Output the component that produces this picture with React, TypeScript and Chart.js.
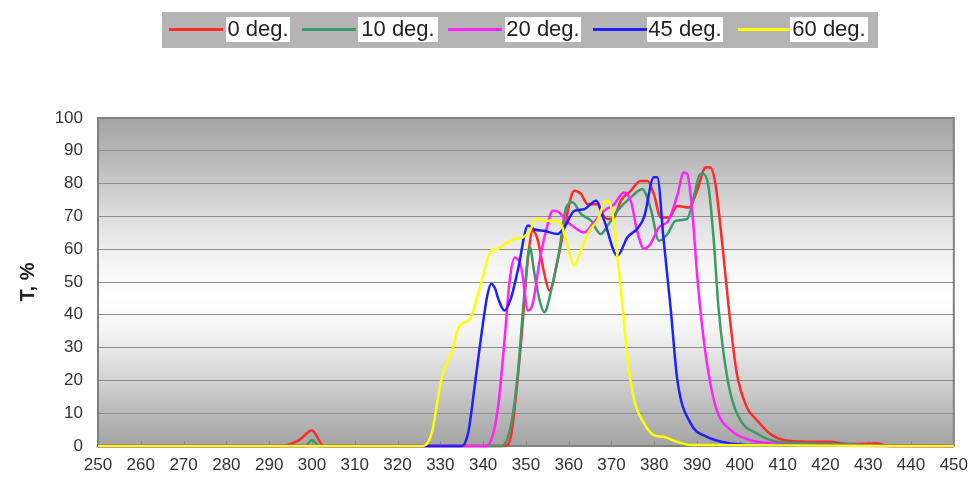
import React, { useEffect, useRef } from "react";
import { Chart, registerables } from "chart.js";

Chart.register(...registerables);

const seriesNames = ["0 deg.", "10 deg.", "20 deg.", "45 deg.", "60 deg."];
const seriesColors = ["#ff2a2a", "#3d9a68", "#ff22ff", "#2020ff", "#ffff00"];

const deg0X = [250, 292.5, 297, 300, 302.8, 345, 346.5, 347.4, 348.9, 350.5, 351.6, 352.8, 354.3, 355.5, 357.4, 359, 361.3, 362.9, 364.4, 366.7, 367.9, 369.1, 370.6, 372.2, 374.5, 376.8, 378.4, 379.9, 381.5, 383.4, 385.4, 388.1, 390, 392, 393.1, 394.3, 395.4, 396.6, 397.8, 399.3, 401.6, 404, 407, 410.2, 415.6, 421, 425.7, 431.9, 435, 450];
const deg0T = [0, 0, 1.8, 4.7, 0, 0, 3, 11.9, 32.2, 57.5, 65.6, 62.6, 52.5, 47.4, 56.5, 66.7, 77.8, 76.8, 73.7, 73.7, 70.7, 69.2, 69.7, 74.8, 77.8, 80.8, 80.8, 76.8, 69.7, 69.7, 73.2, 72.7, 77.8, 84.9, 84.9, 79.8, 67.7, 52.5, 37.3, 22, 11.9, 7.9, 3.8, 1.8, 1.3, 1.3, 0.6, 0.8, 0, 0];

const deg10X = [250, 298.5, 300, 301.8, 344.3, 346.6, 348.1, 349.7, 350.9, 352, 353.2, 354.3, 355.9, 357.8, 359.4, 360.9, 362.9, 365.2, 367.5, 369.1, 371.4, 374.5, 377.2, 379.1, 381.1, 383, 385, 387.7, 389.2, 390.8, 391.5, 392.7, 393.9, 395, 396.2, 397.8, 400.1, 404, 408.6, 415.6, 423.3, 428.8, 450];
const deg10T = [0, 0, 1.8, 0, 0, 6.9, 22, 47.4, 60.6, 52.5, 44.4, 40.8, 47.4, 59.6, 72.7, 74.3, 70.7, 68.7, 64.6, 67.2, 71.7, 75.8, 78.3, 72.7, 62.6, 64.5, 68.7, 69.2, 75.8, 82.9, 82.9, 78.8, 62.6, 42.3, 28.2, 16, 7.9, 3.8, 1.3, 0.8, 0.6, 0.3, 0];

const deg20X = [250, 340.4, 341.9, 343.5, 345, 346.2, 347.4, 348.9, 350.5, 351.6, 353.2, 354.7, 356.3, 357.8, 359.4, 361.3, 363.6, 365.6, 368.3, 370.6, 372.9, 374.5, 376, 377.6, 379.1, 381.1, 383.2, 385.4, 386.9, 387.7, 388.8, 390, 391.2, 392.7, 394.6, 397.8, 402.4, 407.8, 413.3, 450];
const deg20T = [0, 0, 1.8, 12, 32.2, 50.4, 57.5, 54.5, 41.3, 43.4, 56.5, 65.6, 71.7, 71.2, 68.7, 66.7, 65.1, 67.7, 71.7, 73.7, 77.3, 74.8, 65.6, 60.1, 61.6, 66.7, 68.5, 76.5, 83.4, 82.9, 72.7, 52.5, 36.3, 22, 10.9, 4.9, 1.8, 0.8, 0.3, 0];

const deg45X = [250, 335, 336.5, 338, 339.5, 341, 341.9, 342.8, 343.5, 345, 346.5, 348.1, 350.5, 352, 354.3, 357.4, 359, 361.3, 363.6, 366.4, 368.3, 371.4, 373.7, 376, 377.6, 379.9, 380.7, 382.2, 383.8, 385.4, 388.5, 392.3, 397.8, 404, 450];
const deg45T = [0, 0, 4, 18, 33, 46, 49.5, 48, 45, 41.3, 45, 53.5, 67.2, 66, 65.6, 64.6, 66.7, 71.7, 72.2, 74.8, 68.7, 58, 63.6, 66.2, 69.7, 81.9, 81.9, 62.6, 42.3, 20, 6.9, 2.8, 0.8, 0.3, 0];

const deg60X = [250, 326, 328, 330.2, 333, 334.2, 337, 339.5, 341.9, 343.5, 345, 347.4, 349.3, 350.9, 352.4, 354.3, 356.7, 358.2, 359.8, 361.3, 362.9, 364.8, 366.7, 368.7, 369.5, 370.6, 371.4, 372.6, 373.7, 375.3, 377.6, 379.9, 382.2, 385.3, 388.5, 450];
const deg60T = [0, 0, 4, 20, 30, 36, 39, 49.5, 59.6, 60.1, 61.6, 63.1, 63.6, 65.6, 69.2, 68.7, 68.7, 67.7, 60.6, 55, 59.6, 65.6, 68.7, 74.8, 74.3, 67.7, 57.5, 42.3, 27.1, 14, 6.9, 3.3, 2.8, 1.3, 0.3, 0];

const seriesX = [deg0X, deg10X, deg20X, deg45X, deg60X];
const seriesT = [deg0T, deg10T, deg20T, deg45T, deg60T];

const xMin = 250;
const xMax = 450;
const xStep = 10;
const yMin = 0;
const yMax = 100;
const yStep = 10;
const yTitle = "T, %";

const FONT = "'Liberation Sans', Arial, Helvetica, sans-serif";

const bgPlugin = {
  id: "bgPlugin",
  beforeDraw(chart: any) {
    const { ctx, chartArea: a } = chart;
    ctx.save();
    ctx.fillStyle = "#ffffff";
    ctx.fillRect(0, 0, chart.width, chart.height);
    const g = ctx.createLinearGradient(0, a.top, 0, a.bottom);
    g.addColorStop(0, "#a6a6a6");
    g.addColorStop(0.12, "#b8b8b8");
    g.addColorStop(0.3, "#dedede");
    g.addColorStop(0.45, "#f6f6f6");
    g.addColorStop(0.55, "#ffffff");
    g.addColorStop(0.65, "#f4f4f4");
    g.addColorStop(0.8, "#d2d2d2");
    g.addColorStop(0.92, "#b4b4b4");
    g.addColorStop(1, "#a4a4a4");
    ctx.fillStyle = g;
    ctx.fillRect(a.left, a.top, a.right - a.left, a.bottom - a.top);
    ctx.restore();
  },
  beforeDatasetsDraw(chart: any) {
    const { ctx, chartArea: a, scales } = chart;
    ctx.save();
    ctx.strokeStyle = "#8a8a8a";
    ctx.lineWidth = 1;
    for (let v = xMin + xStep; v < xMax; v += xStep) {
      const px = Math.round(scales.x.getPixelForValue(v)) + 0.5;
      ctx.beginPath();
      ctx.moveTo(px, a.bottom);
      ctx.lineTo(px, a.bottom - 5);
      ctx.stroke();
    }
    ctx.strokeStyle = "#808080";
    ctx.lineWidth = 2;
    ctx.strokeRect(a.left, a.top, a.right - a.left, a.bottom - a.top);
    ctx.restore();
  },
  afterDraw(chart: any) {
    const { ctx } = chart;
    ctx.save();
    ctx.fillStyle = "#b4b4b4";
    ctx.fillRect(162, 12, 716, 36);
    const lineStarts = [169, 302, 448, 593, 738];
    const boxes = [[226, 290], [358, 438], [505, 581], [647, 723], [790, 868]];
    ctx.font = `22px ${FONT}`;
    ctx.textBaseline = "middle";
    for (let i = 0; i < seriesNames.length; i++) {
      ctx.strokeStyle = seriesColors[i];
      ctx.lineWidth = 3;
      ctx.beginPath();
      ctx.moveTo(lineStarts[i], 29.5);
      ctx.lineTo(lineStarts[i] + 54, 29.5);
      ctx.stroke();
      ctx.fillStyle = "#ffffff";
      ctx.fillRect(boxes[i][0], 17, boxes[i][1] - boxes[i][0], 25);
      ctx.fillStyle = "#222222";
      ctx.textAlign = "center";
      ctx.fillText(seriesNames[i], (boxes[i][0] + boxes[i][1]) / 2, 30);
    }
    ctx.restore();
  },
};

export default function App() {
  const ref = useRef<HTMLCanvasElement | null>(null);
  useEffect(() => {
    if (!ref.current) return;
    const datasets = seriesNames.map((name, i) => ({
      label: name,
      data: seriesX[i].map((x, j) => ({ x, y: seriesT[i][j] })),
      borderColor: seriesColors[i],
      backgroundColor: seriesColors[i],
      borderWidth: 2.5,
      pointRadius: 0,
      cubicInterpolationMode: "monotone" as const,
      fill: false,
      clip: 3,
      order: seriesNames.length - i,
    }));
    const chart = new Chart(ref.current, {
      type: "line",
      data: { datasets },
      options: {
        animation: false,
        responsive: false,
        layout: { padding: { top: 118, right: 16, left: 0, bottom: 0 } },
        plugins: { legend: { display: false }, tooltip: { enabled: false } },
        scales: {
          x: {
            type: "linear",
            min: xMin,
            max: xMax,
            afterFit: (s: any) => { s.height = 38; },
            ticks: { stepSize: xStep, color: "#333333", padding: 9, font: { family: FONT, size: 17 }, maxRotation: 0, autoSkip: false },
            grid: { display: false, drawTicks: false },
            border: { display: false },
          },
          y: {
            min: yMin,
            max: yMax,
            afterFit: (s: any) => { s.width = 98; },
            ticks: { stepSize: yStep, color: "#333333", padding: 15, font: { family: FONT, size: 17 } },
            grid: { color: "#8c8c8c", lineWidth: 1, drawTicks: false },
            border: { display: false },
            title: { display: true, text: yTitle, color: "#222222", font: { family: FONT, size: 20, weight: "bold" }, padding: { top: 16, bottom: 0 } },
          },
        },
      },
      plugins: [bgPlugin],
    });
    return () => chart.destroy();
  }, []);
  return (
    <canvas
      ref={ref}
      width={977}
      height={484}
      style={{ position: "absolute", left: 0, top: 0, width: 977, height: 484 }}
    />
  );
}
